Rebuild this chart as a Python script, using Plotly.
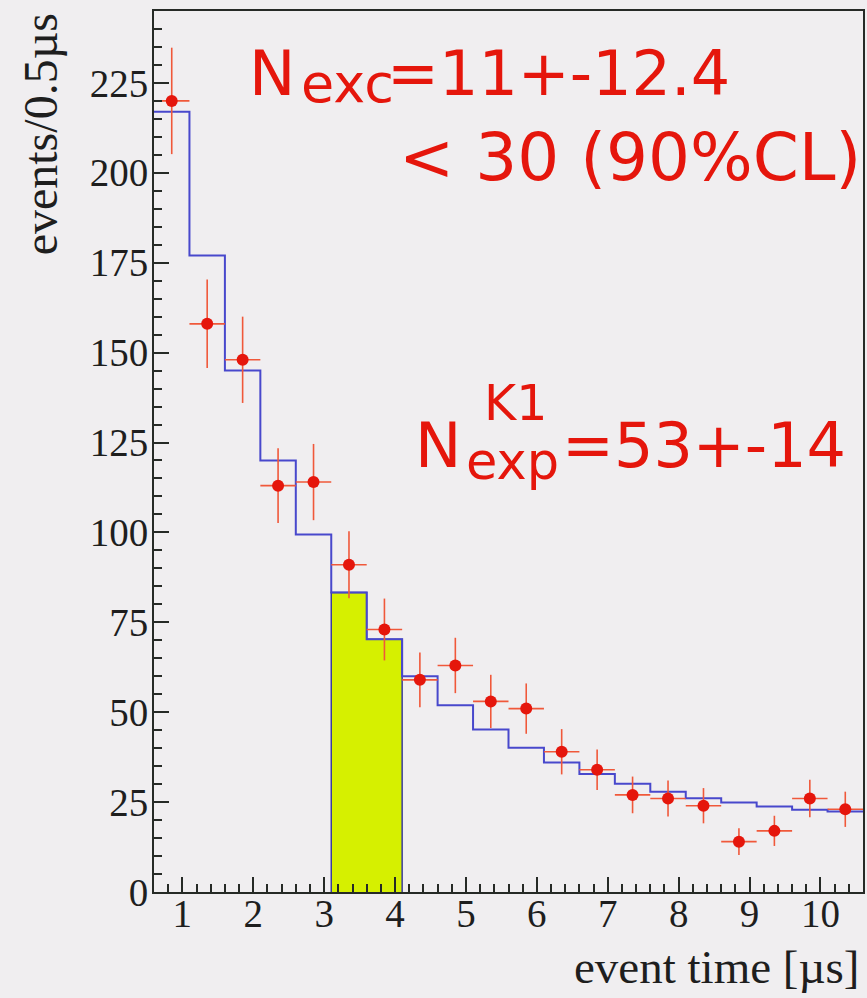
import plotly.graph_objects as go

# ---- data ----
time_centers = [0.85, 1.35, 1.85, 2.35, 2.85, 3.35, 3.85, 4.35, 4.85, 5.35,
                5.85, 6.35, 6.85, 7.35, 7.85, 8.35, 8.85, 9.35, 9.85, 10.35]
bin_width = 0.5
expected = [217, 177, 145, 120, 99.4, 83.3, 70.3, 60, 51.9, 45.2,
            40.1, 36, 32.8, 30.1, 27.9, 26.1, 24.9, 23.8, 22.9, 22.4]
observed = [220, 158, 148, 113, 114, 91, 73, 59, 63, 53,
            51, 39, 34, 27, 26, 24, 14, 17, 26, 23]
obs_err = [14.8, 12.3, 12.0, 10.4, 10.6, 9.3, 8.6, 7.6, 7.7, 7.4,
           7.0, 6.3, 5.6, 5.1, 5.0, 4.9, 3.7, 4.2, 5.2, 4.9]
signal_bins = [5, 6]   # indices of the highlighted time window

# ---- styles ----
BG = "#f0eef0"
AX = "#262a26"
BLUE = "#4848cc"
RED = "#e5160c"
ERR = "#f0583a"
YELLOW = "#d6f000"
SERIF = "Liberation Serif"
SANS = "DejaVu Sans"
TXT = "#1e1e1e"

half = bin_width / 2
lo = [c - half for c in time_centers]
hi = [c + half for c in time_centers]

# step histogram of the expectation
step_x = lo + [hi[-1]]
step_y = expected + [expected[-1]]

# highlighted window polygon
poly_x = [lo[signal_bins[0]]]
poly_y = [0]
for i in signal_bins:
    poly_x += [lo[i], hi[i]]
    poly_y += [expected[i], expected[i]]
poly_x.append(hi[signal_bins[-1]])
poly_y.append(0)

fig = go.Figure()
fig.add_trace(go.Scatter(x=poly_x, y=poly_y, mode="lines", fill="toself",
                         fillcolor=YELLOW, line=dict(color="#3c3c9c", width=1.5),
                         hoverinfo="skip"))
fig.add_trace(go.Scatter(x=step_x, y=step_y, mode="lines", line_shape="hv",
                         line=dict(color=BLUE, width=2)))
fig.add_trace(go.Scatter(
    x=time_centers, y=observed, mode="markers",
    marker=dict(color=RED, size=12, line=dict(width=0)),
    error_y=dict(type="data", array=obs_err, visible=True, color=ERR,
                 thickness=1.6, width=0),
    error_x=dict(type="constant", value=half, visible=True, color=ERR,
                 thickness=1.6, width=0),
))

axis_common = dict(
    showline=True, linecolor=AX, linewidth=2, mirror=True,
    showgrid=False, zeroline=False,
    ticks="inside", tickcolor=AX, tickwidth=1.6, ticklen=15,
    tickfont=dict(family=SERIF, size=39, color=TXT),
    tickmode="linear", tick0=0,
)
fig.update_xaxes(range=[0.6, 10.6], dtick=1,
                 minor=dict(dtick=0.2, tick0=0, ticks="inside", ticklen=8,
                            tickcolor=AX, tickwidth=1.5, showgrid=False),
                 ticklabelstandoff=-14,
                 **axis_common)
fig.update_yaxes(range=[0, 245], dtick=25,
                 minor=dict(dtick=5, tick0=0, ticks="inside", ticklen=8,
                            tickcolor=AX, tickwidth=1.5, showgrid=False),
                 ticklabelstandoff=-4,
                 **axis_common)

W, H = 867, 998
ML, MR, MT, MB = 154, 2, 11, 106
PW, PH = W - ML - MR, H - MT - MB


def px(xp):
    return (xp - ML) / PW


def py(yp):
    return (H - MB - yp) / PH


def red(text, x, y, size, xanchor="left"):
    return dict(text=text, x=px(x), y=py(y), xanchor=xanchor, yanchor="middle",
                font=dict(family=SANS, size=size, color=RED))


annos = [
    dict(text="events/0.5\u00b5s", x=px(40), y=py(11), xanchor="center", yanchor="top",
         textangle=-90, font=dict(family=SERIF, size=48, color=TXT)),
    dict(text="event time [\u00b5s]", x=px(864), y=py(967), xanchor="right", yanchor="middle",
         font=dict(family=SERIF, size=47, color=TXT)),
    # N_exc = 11+-12.4
    red("N", 247, 74, 62),
    red("exc", 299, 83, 54),
    red("=11+-12.4", 734, 74, 62, xanchor="right"),
    # < 30 (90%CL)
    red("< 30 (90%CL)", 865, 158, 66, xanchor="right"),
    # N^K1_exp = 53+-14
    red("N", 414, 446, 62),
    red("exp", 465, 461, 51),
    red("K1", 483, 403, 49),
    red("=53+-14", 850, 446, 62, xanchor="right"),
]
for a in annos:
    a.update(xref="paper", yref="paper", showarrow=False)

fig.update_layout(width=W, height=H, margin=dict(l=ML, r=MR, t=MT, b=MB),
                  paper_bgcolor=BG, plot_bgcolor=BG, showlegend=False,
                  annotations=annos)
fig.write_html("out.html")
